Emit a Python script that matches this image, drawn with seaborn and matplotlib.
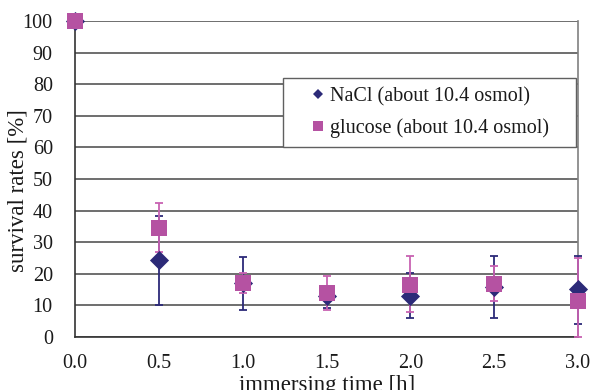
import matplotlib
matplotlib.use("Agg")
import matplotlib.pyplot as plt
from matplotlib.lines import Line2D
from matplotlib.patches import Rectangle
import seaborn as sns
import pandas as pd

times = [0.0, 0.5, 1.0, 1.5, 2.0, 2.5, 3.0]
nacl_mean = [100, 24.3, 17.0, 13.0, 13.0, 15.8, 15.2]
nacl_low = [100, 10.0, 8.7, 9.2, 6.1, 6.1, 4.1]
nacl_high = [100, 38.3, 25.4, 16.0, 20.4, 25.7, 25.6]
glu_mean = [100, 34.6, 17.0, 13.9, 16.6, 16.9, 11.4]
glu_low = [100, 27.0, 14.0, 8.6, 7.8, 11.4, 0.0]
glu_high = [100, 42.3, 20.2, 19.2, 25.6, 22.4, 25.0]
labels = ["NaCl (about 10.4 osmol)", "glucose (about 10.4 osmol)"]
xticks = [0.0, 0.5, 1.0, 1.5, 2.0, 2.5, 3.0]
yticks = [0, 10, 20, 30, 40, 50, 60, 70, 80, 90, 100]

NAVY = "#2c2a78"
MAG = "#b552a2"
MAG_ERR = "#c862b2"
FS = 14.5
LFS = 16.5

sns.set_theme(style="white")
plt.rcParams["font.family"] = ["Liberation Serif", "DejaVu Serif"]
plt.rcParams["font.size"] = FS

fig = plt.figure(figsize=(5.9, 3.9), dpi=100)
ax = fig.add_axes([75/590, 1-337/390, 503/590, 316/390])

df_n = pd.DataFrame({"t": times, "v": nacl_mean})
df_g = pd.DataFrame({"t": times, "v": glu_mean})

ax.errorbar(times, nacl_mean,
            yerr=[[m - l for m, l in zip(nacl_mean, nacl_low)],
                  [h - m for m, h in zip(nacl_mean, nacl_high)]],
            fmt="none", ecolor=NAVY, elinewidth=1.3, capsize=3, capthick=1.3,
            zorder=3, clip_on=False)
ax.errorbar(times, glu_mean,
            yerr=[[m - l for m, l in zip(glu_mean, glu_low)],
                  [h - m for m, h in zip(glu_mean, glu_high)]],
            fmt="none", ecolor=MAG_ERR, elinewidth=1.3, capsize=3, capthick=1.3,
            zorder=3.5, clip_on=False)
sns.scatterplot(data=df_n, x="t", y="v", marker="D", s=95, color=NAVY,
                linewidth=0, ax=ax, zorder=4, clip_on=False, legend=False)
sns.scatterplot(data=df_g, x="t", y="v", marker="s", s=120, color=MAG,
                linewidth=0, ax=ax, zorder=5, clip_on=False, legend=False)

ax.set_xlim(0, 3.0)
ax.set_ylim(0, 100)
ax.set_xticks(xticks)
ax.set_xticklabels([f"{v:.1f}" for v in xticks])
ax.set_yticks(yticks)
ax.set_yticklabels([str(v) for v in yticks])
ax.yaxis.grid(True, color="#474747", linewidth=1.1)
ax.xaxis.grid(False)
ax.set_axisbelow(True)

for side in ["left", "bottom"]:
    ax.spines[side].set_color("#333333")
    ax.spines[side].set_linewidth(1.2)
ax.spines["right"].set_color("#808080")
ax.spines["right"].set_linewidth(1.2)
ax.spines["top"].set_visible(False)

ax.tick_params(axis="x", direction="in", length=5, width=1, color="#555555",
               pad=12, labelsize=FS, labelcolor="#1a1a1a")
ax.tick_params(axis="y", length=0, pad=16, labelsize=FS, labelcolor="#1a1a1a")

ax.set_xlabel("immersing time [h]", fontsize=LFS, color="#1a1a1a")
ax.set_ylabel("survival rates [%]", fontsize=LFS, color="#1a1a1a")
ax.xaxis.set_label_coords((327.5-75)/503, -0.12)
ax.yaxis.set_label_coords(-0.092, (337-191)/316)

# legend box
ax.add_patch(Rectangle((0.4135, 0.601), 0.5825, 0.2186, transform=ax.transAxes,
                       facecolor="white", edgecolor="#606060", linewidth=1.0,
                       zorder=6))
handles = [Line2D([], [], linestyle="none", marker="D", markersize=4.6,
                  color=NAVY, markeredgewidth=0),
           Line2D([], [], linestyle="none", marker="s", markersize=6.5,
                  color=MAG, markeredgewidth=0)]
leg = ax.legend(handles, labels, loc="center left",
                bbox_to_anchor=((309-75)/503, (337-112.5)/316),
                frameon=False, borderpad=0, borderaxespad=0, handlelength=0.9,
                handletextpad=0.12, labelspacing=0.62, fontsize=FS)
leg.set_zorder(7)
for t in leg.get_texts():
    t.set_color("#1a1a1a")

fig.savefig("out.png", dpi=100)
